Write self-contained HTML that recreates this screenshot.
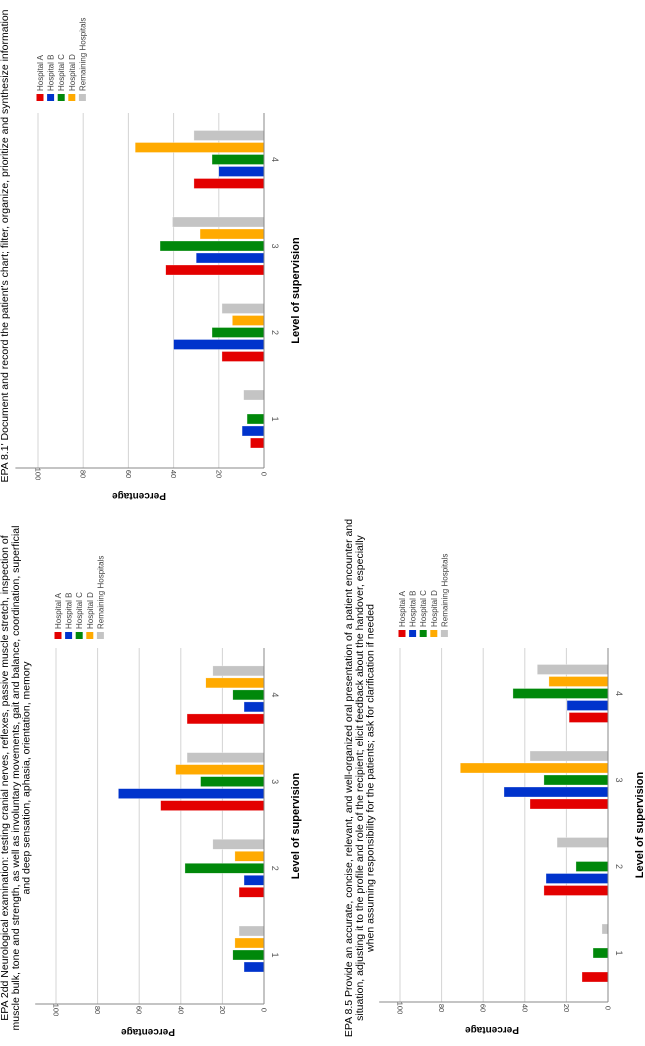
<!DOCTYPE html>
<html><head><meta charset="utf-8">
<style>
html,body{margin:0;padding:0;background:#fff;width:645px;height:1046px;overflow:hidden}
svg{display:block;font-family:"Liberation Sans",Arial,sans-serif}
</style></head>
<body>
<svg id="root" width="645" height="1046" viewBox="0 0 645 1046">
<g id="page" transform="translate(0,1046) rotate(-90)"></g>
</svg>
<script>
// Data (percentages), order per category: Hospital A, B, C, D, Remaining
const categories = ["1","2","3","4"];
const seriesNames = ["Hospital A","Hospital B","Hospital C","Hospital D","Remaining Hospitals"];
const tickValues = [0,20,40,60,80,100];
const epa81A = [6,18.6,43.5,31];
const epa81B = [9.7,40,30,20];
const epa81C = [7.5,23,46,23];
const epa81D = [0,14,28.3,57];
const epa81R = [9,18.6,40.5,31];
const epa2dA = [0,12,49.7,37];
const epa2dB = [9.6,9.6,70,9.6];
const epa2dC = [15,38,30.5,15];
const epa2dD = [14,14,42.5,28];
const epa2dR = [12,24.6,37,24.6];
const epa85A = [12.5,30.8,37.5,18.7];
const epa85B = [0,29.8,50,19.7];
const epa85C = [7.2,15.4,30.8,45.7];
const epa85D = [0,0,71,28.4];
const epa85R = [2.9,24.5,37.5,34];

const colors = ["#e30000","#0033cc","#00880a","#ffaa00","#c4c4c4"];
const NS = "http://www.w3.org/2000/svg";
const page = document.getElementById('page');
function mk(tag, attrs, parent){const e=document.createElementNS(NS,tag);for(const k in attrs)e.setAttribute(k,attrs[k]);parent.appendChild(e);return e;}

function chart(cfg){
  const g = mk('g',{},page);
  
  
  // value scale: y pixel in unrotated coords
  const yv = v => cfg.y0 - v*(cfg.y0-cfg.y100)/100;
  const catX = i => cfg.c1 + i*cfg.cs;
  // title
  cfg.title.forEach((t,i)=>{
    const tx = mk('text',{x:cfg.tcx,y:cfg.ty+i*10.8,'text-anchor':'middle','font-size':'10.5',fill:'#000'},g);
    tx.textContent=t;
    
    
  });
  // gridlines
  tickValues.forEach(v=>{
    if(v>0){
      const l=mk('line',{x1:cfg.xa,x2:cfg.xe,y1:yv(v),y2:yv(v),stroke:'#d4d4d4','stroke-width':'1'},g);
      
      
    }
    const yy=yv(v);
    const tl=mk('text',{x:0,y:0,'font-size':'7.5',fill:'#444','text-anchor':'middle',transform:`translate(${cfg.xa-6},${yy}) rotate(180) translate(0,2.5)`},g);
    tl.textContent=String(v);
    
    
  });
  // bars
  const data=cfg.data;
  categories.forEach((c,i)=>{
    data.forEach((ser,s)=>{
      const v=ser[i]; if(!v) return;
      const cx=catX(i)+(s-2)*12;
      const r=mk('rect',{x:cx-5,width:10,y:yv(v),height:cfg.y0-yv(v),fill:colors[s],stroke:'rgba(255,255,255,0.6)','stroke-width':'0.5'},g);
      
      
    });
    const cl=mk('text',{x:0,y:0,'font-size':'9',fill:'#555','text-anchor':'middle',transform:`translate(${catX(i)},${cfg.y0+11}) rotate(180) translate(0,3)`},g);
    cl.textContent=c;
    
    
  });
  // axes
  const ax=mk('line',{x1:cfg.xa,x2:cfg.xa,y1:cfg.y0,y2:yv(110),stroke:'#888','stroke-width':'1'},g);
  
  
  const bx=mk('line',{x1:cfg.xa,x2:cfg.xe,y1:cfg.y0,y2:cfg.y0,stroke:'#888','stroke-width':'1'},g);
  
  
  // axis titles
  const xt=mk('text',{x:(cfg.xa+cfg.xe)/2,y:cfg.y0+35,'text-anchor':'middle','font-size':'11','font-weight':'bold',fill:'#000'},g);
  xt.textContent='Level of supervision';
  
  
  const yt=mk('text',{x:0,y:0,'text-anchor':'middle','font-size':'10','font-weight':'bold',fill:'#000',transform:`translate(${cfg.xa-29},${(cfg.y0+cfg.y100)/2-12}) rotate(-90) translate(0,4)`},g);
  yt.textContent='Percentage';
  
  
  // legend
  seriesNames.forEach((n,s)=>{
    const yy=cfg.y100+2+s*10.6;
    const sw=mk('rect',{x:cfg.lx,y:yy-3.5,width:7,height:7,fill:colors[s]},g);
    
    
    const lt=mk('text',{x:cfg.lx+10,y:yy+3,'font-size':'8',fill:'#444'},g);
    lt.textContent=n;
    
    
  });
}

chart({name:'chart-epa-2d',title:["EPA 2dd Neurological examination: testing cranial nerves, reflexes, passive muscle stretch, inspection of","muscle bulk, tone and strength, as well as involuntary movements, gait and balance, coordination, superficial","and deep sensation, aphasia, orientation, memory"],
  tcx:268,ty:8,xa:42,xe:398,y0:264,y100:56,c1:91,cs:86.7,lx:407,data:[epa2dA,epa2dB,epa2dC,epa2dD,epa2dR]});
chart({name:'chart-epa-8-1',title:["EPA 8.1' Document and record the patient's chart; filter, organize, prioritize and synthesize information"],
  tcx:800,ty:8,xa:578,xe:933,y0:264,y100:38,c1:627,cs:86.5,lx:945,data:[epa81A,epa81B,epa81C,epa81D,epa81R]});
chart({name:'chart-epa-8-5',title:["EPA 8.5 Provide an accurate, concise, relevant, and well-organized oral presentation of a patient encounter and","situation, adjusting it to the profile and role of the recipient; elicit feedback about the handover, especially","when assuming responsibility for the patients; ask for clarification if needed"],
  tcx:268,ty:352,xa:44,xe:398,y0:608,y100:400,c1:93,cs:86.5,lx:409,data:[epa85A,epa85B,epa85C,epa85D,epa85R]});
</script>
</body></html>
